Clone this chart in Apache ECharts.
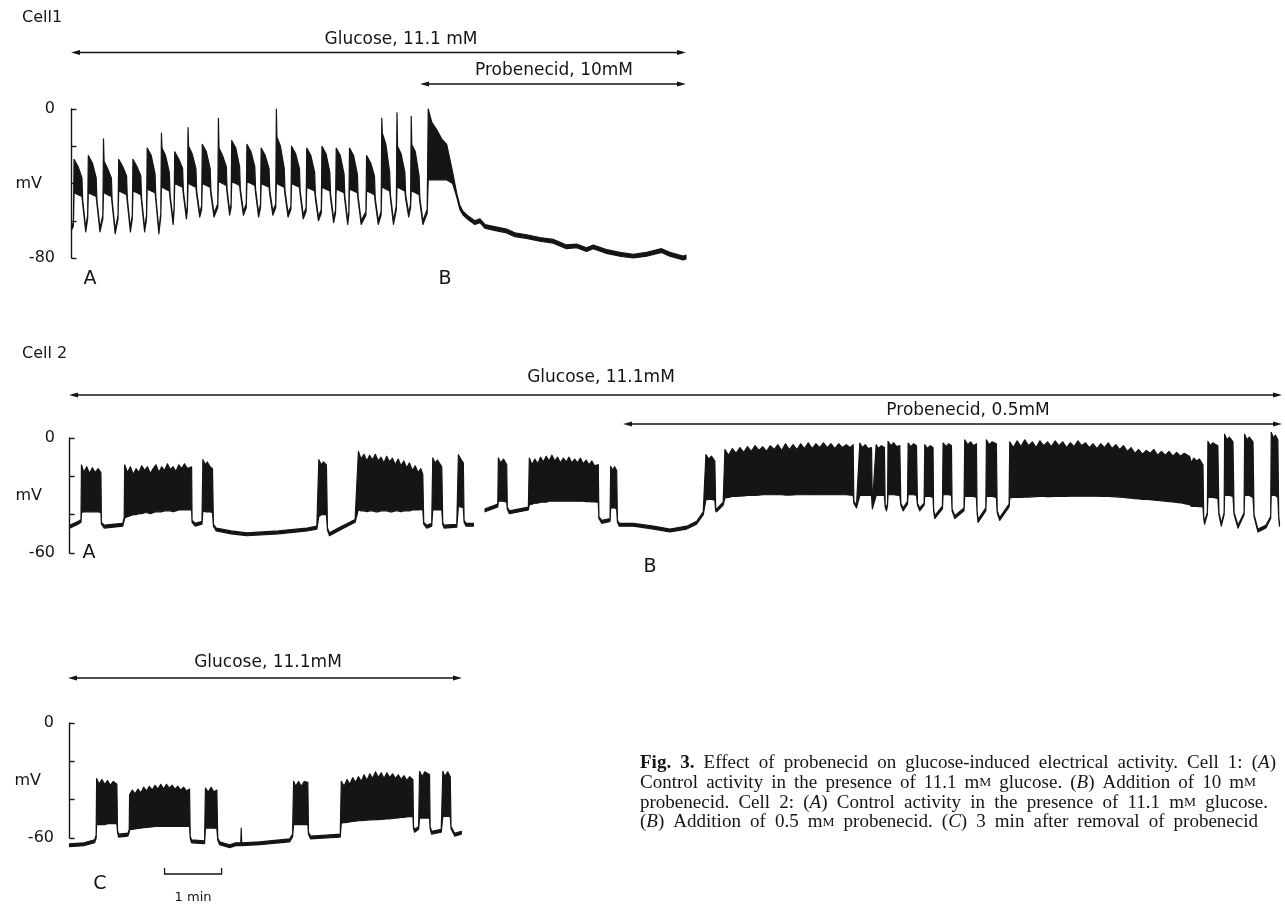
<!DOCTYPE html>
<html>
<head>
<meta charset="utf-8">
<title>Fig. 3 - probenecid</title>
<script src="https://cdn.jsdelivr.net/npm/echarts@6/dist/echarts.min.js"></script>
<style>
  html, body { margin: 0; padding: 0; background: #fff; }
  #main { width: 1285px; height: 906px; }
</style>
</head>
<body>
<div id="main"></div>
<script>
// membrane potential
// each point: [time (s), lower edge (mV), upper edge (mV)]
// inside a burst the lower edge is the plateau and the upper edge the spike tops
const cell1Trace = [
  [0, -65, -63], [2, -63, -61], [2.7, -45, -27], [7, -46, -31], [11, -47, -37], [11.8, -51, -49], [15, -66, -64],
  [17, -59, -57], [17.7, -45, -25], [22, -46, -29], [26, -47, -37], [26.8, -51, -49], [30, -66, -64],
  [33, -59, -57], [33.7, -45, -16], [34.3, -45, -28], [38, -46, -32], [42, -47, -37], [42.8, -51, -49], [46, -67, -65],
  [49, -59, -57], [49.7, -44, -27], [54, -45, -31], [58, -46, -36], [58.8, -50, -48], [62, -66, -64],
  [64, -59, -57], [64.7, -44, -27], [69, -45, -31], [73, -46, -36], [73.8, -50, -48], [77, -66, -64],
  [79, -59, -57], [79.7, -43, -21], [84, -44, -25], [88, -45, -35], [88.8, -49, -47], [92, -67, -65],
  [94, -58, -56], [94.7, -42, -13], [95.3, -42, -21], [99, -43, -25], [103, -44, -34], [103.8, -48, -46], [107, -62, -60],
  [108, -55, -53], [108.7, -40, -23], [113, -41, -27], [117, -42, -32], [117.8, -46, -44], [121, -59, -57],
  [122, -54, -52], [122.7, -40, -10], [123.3, -40, -20], [127, -41, -24], [131, -42, -32], [131.8, -46, -44], [135, -58, -56],
  [137, -54, -52], [137.7, -40, -19], [142, -41, -23], [146, -42, -32], [146.8, -46, -44], [150, -58, -56],
  [154, -53, -51], [154.7, -39, -5], [155.3, -39, -21], [159, -40, -25], [163, -41, -31], [163.8, -45, -43], [166.5, -57, -55],
  [168, -53, -51], [168.7, -39, -17], [173, -40, -21], [177, -41, -31], [177.8, -45, -43], [181, -57, -55],
  [184, -53, -51], [184.7, -39, -19], [189, -40, -23], [193, -41, -31], [193.8, -45, -43], [197, -58, -56],
  [199, -53, -51], [199.7, -40, -21], [204, -41, -25], [208, -42, -32], [208.8, -46, -44], [212, -57, -55],
  [215, -53, -51], [215.7, -40, 0], [216.3, -40, -15], [220, -41, -20], [224, -42, -32], [224.8, -46, -44], [228, -58, -56],
  [231, -54, -52], [231.7, -40, -20], [236, -41, -24], [240, -42, -32], [240.8, -46, -44], [244, -59, -57],
  [247, -55, -53], [247.7, -42, -21], [252, -43, -25], [256, -44, -34], [256.8, -48, -46], [260, -60, -58],
  [263, -56, -54], [263.7, -42, -20], [268, -43, -24], [272, -44, -34], [272.8, -48, -46], [276, -61, -59],
  [278, -56, -54], [278.7, -43, -21], [283, -44, -25], [287, -45, -35], [287.8, -49, -47], [290.8, -62, -60],
  [292, -57, -55], [292.7, -43, -21], [297, -44, -25], [301, -45, -35], [301.8, -49, -47], [305, -62, -60],
  [310, -57, -55], [310.7, -44, -25], [315, -45, -29], [319, -46, -36], [319.8, -50, -48], [323, -62, -60],
  [326, -57, -55], [326.7, -42, -5], [327.3, -42, -13], [331, -43, -19], [335, -44, -34], [335.8, -48, -46], [339, -62, -60],
  [342, -54, -52], [342.7, -42, -2], [343.3, -42, -20], [347, -43, -24], [351, -44, -34], [351.8, -48, -46], [355, -58, -56],
  [357, -53, -51], [357.7, -44, -4], [358.3, -44, -19], [362, -45, -23], [366, -46, -36], [366.8, -50, -48], [370, -62, -60],
  [374.5, -56, -54], [375.6, -38, 0], [379.2, -38, -7], [384.4, -38, -11], [389.7, -38, -16], [395, -38, -19],
  [398.4, -39, -27], [401.3, -40, -34], [405.5, -47, -45], [409, -54, -52], [412.4, -57, -55], [417.7, -59.5, -57.5],
  [424.7, -62, -60], [430, -61, -59], [435.2, -64, -62], [444, -65, -63], [458.1, -66.5, -64.5], [466.8, -68.5, -66.5],
  [479.1, -69.5, -67.5], [493.1, -71, -69], [507.1, -72, -70], [521.2, -75, -73], [531.8, -74.5, -72.5],
  [542.3, -76.5, -74.5], [549.3, -75, -73], [563.3, -77.5, -75.5], [577.4, -79, -77], [591.4, -80, -78],
  [605.5, -79, -77], [621.3, -77, -75], [630, -79, -77], [644, -81, -79], [647, -80.5, -78.5]
];

const cell2TraceA = [
  [0, -47, -45.5], [9, -45, -43.5], [12, -44, -42.5],
  [12.5, -39, -14], [15, -38.5, -18], [18, -38.5, -15], [21, -38.5, -18.5], [24, -38.5, -15.5], [27, -38.5, -18],
  [30, -38.5, -16], [33, -39, -18],
  [33.5, -45, -44], [36.5, -47, -45.5], [56, -46, -44.5], [57.5, -43, -41.5],
  [58, -41.7, -14], [61, -41, -18], [64, -40.5, -15], [67, -40, -19], [70, -40, -16], [73, -39.5, -18],
  [76, -39.5, -14.5], [79, -39, -17], [82, -39, -15], [85, -39.5, -18.5], [88, -39, -16], [91, -38.5, -14],
  [94, -38.5, -18], [97, -38.5, -15], [100, -38, -17], [103, -38, -13.5], [106, -38, -16.5], [109, -38.5, -15],
  [112, -38, -17.5], [115, -37.5, -14], [118, -37.5, -16], [121, -37.5, -13.5], [124, -37.5, -16], [128.5, -37.4, -15],
  [129, -44, -43], [132.3, -46, -44.5], [139.4, -45, -43.5],
  [140.4, -38, -11.3], [143, -38.5, -14], [145, -38.5, -12.5], [148, -38.5, -15], [150.5, -39, -16],
  [151.5, -46, -45], [154.4, -48.5, -47], [170, -50, -48.5], [186.7, -51, -49.5], [220, -50, -48.5],
  [250, -48.5, -47], [260.4, -47.5, -46],
  [262.5, -41, -11.3], [265, -40, -14], [267.5, -40, -12.5], [270.5, -40, -14],
  [271.6, -48, -47], [273.7, -51, -49.5], [285, -48, -46.5], [300.7, -44, -42.5],
  [304.2, -37.4, -7], [307, -38, -11], [310, -38, -8.5], [313, -38.5, -12], [316, -38, -9], [319, -38, -11.5],
  [322, -38.5, -8.5], [325, -38.5, -12], [328, -38, -10], [331, -38, -13], [334, -38, -9.5], [337, -38.5, -12.5],
  [340, -38.5, -10.5], [343, -38, -14], [346, -38, -11], [349, -38.5, -14.5], [352, -38, -12], [355, -38, -15.5],
  [358, -38, -13], [361, -37.5, -17], [364, -37.5, -14.5], [367, -37.5, -18], [370, -37.4, -16], [372, -37.4, -19],
  [373, -45, -44], [376.2, -47, -45.5], [381.4, -46, -44.5],
  [382.5, -37.4, -10.4], [385, -37.5, -13], [387.5, -37.5, -11.5], [392, -37.5, -15],
  [393, -45, -44], [394.4, -47, -45.5], [407.8, -46.5, -45],
  [409.5, -35.7, -8.7], [412, -36, -11], [414.7, -36.5, -13],
  [415.5, -44, -43], [417.6, -46, -44.5], [425.3, -46, -44.5]
];

const cell2TraceB = [
  [437.6, -38.5, -37], [451, -36, -34.5],
  [451.6, -33, -10.4], [454, -33, -13], [457, -33, -11], [460.4, -33.5, -14],
  [461, -37, -36], [463.2, -39.5, -38], [483.2, -37.5, -36],
  [484.2, -34.8, -10.4], [487, -34.5, -14], [490, -34, -11], [493, -34, -13.5], [496, -33.5, -10], [499, -33.5, -12.5],
  [502, -33.5, -9.5], [505, -33, -12], [508, -33, -9], [511, -33, -12], [514, -33, -10], [517, -33, -13],
  [520, -33, -10.5], [523, -33, -12.5], [526, -33, -10], [529, -33, -13], [532, -33, -11], [535, -33, -13],
  [538, -33, -10.5], [541, -33, -13.5], [544, -33.2, -11.5], [547, -33.2, -14], [550, -33.3, -12], [553, -33.4, -14.5],
  [556.8, -33.5, -13.9],
  [557.5, -42, -41], [560.4, -44.5, -43], [569.2, -43.5, -42],
  [569.9, -36.5, -14.8], [572, -36.5, -17], [574, -36.5, -15], [576.2, -37, -17],
  [577, -44, -43], [578.9, -46, -44.5], [593.6, -46, -44.5], [615, -47.5, -46], [632.3, -49, -47.5],
  [650, -47.5, -46], [660.4, -45, -43.5], [667.4, -40, -38.5],
  [670.2, -32.2, -8.7], [673, -32, -11], [676, -32, -9.5], [679.6, -32.5, -12],
  [680.5, -38, -37], [681.4, -38.5, -37], [688.4, -35, -33.5],
  [690.2, -31.3, -6], [694, -31, -9], [698, -30.5, -5.5], [702, -30.5, -8], [706, -30.3, -5], [710, -30.2, -7.5],
  [714, -30, -4.5], [718, -30, -7], [722, -30, -4], [726, -29.8, -6.5], [730, -29.6, -4.5], [734, -29.6, -7],
  [738, -29.6, -4], [742, -29.6, -6], [746, -29.6, -3.5], [750, -29.6, -6.5], [754, -29.8, -3], [758, -29.8, -6],
  [762, -29.7, -3.5], [766, -29.6, -6], [770, -29.6, -3], [774, -29.6, -5.5], [778, -29.6, -2.5], [782, -29.5, -5.5],
  [786, -29.5, -3], [790, -29.6, -5], [794, -29.6, -2.5], [798, -29.6, -5], [802, -29.5, -3], [806, -29.5, -5.5],
  [810, -29.6, -3], [814, -29.6, -5], [818, -29.6, -3.5], [822, -29.8, -5], [825.3, -30, -3.5],
  [826, -34, -33], [828.8, -36.5, -35],
  [832.3, -30, -2.6], [835, -30, -5], [838, -30, -3.5], [841, -30, -5.5], [844.6, -30, -5],
  [845.5, -37, -35.5],
  [849.5, -30, -3.5], [852, -30, -5.5], [855, -30, -4], [858.2, -30, -5],
  [859, -36, -35], [860.4, -38, -36.5], [861.5, -35, -34],
  [862, -29.6, -1.7], [865, -29.6, -4], [868, -29.6, -2.5], [871, -29.8, -4.5], [874.4, -30, -4],
  [875.5, -35, -34], [877.9, -38, -36.5], [882.5, -34.5, -33],
  [883.2, -29.6, -2.6], [886, -29.6, -4.5], [889, -29.6, -3], [892, -30, -4],
  [893, -35, -34], [895.4, -38, -36.5], [900, -35, -34],
  [900.7, -30.5, -3.5], [903.5, -30.5, -5.5], [906.5, -30.5, -4], [909.4, -31, -5],
  [910, -38, -37], [911.2, -42, -40.5], [919.3, -37, -35.5],
  [920, -29.6, -2.6], [923, -29.6, -4.5], [926, -29.6, -3], [928.8, -30, -4],
  [929.5, -38, -37], [932.3, -42, -40.5], [942, -38, -36.5],
  [942.8, -30.5, -1], [946, -30.5, -3.5], [949, -30.5, -2], [952, -30.5, -4], [955.1, -31, -3],
  [955.8, -39, -38], [956.8, -44, -42.5], [965, -38, -36.5],
  [965.6, -30.5, -1], [968.5, -30.5, -3.5], [971.5, -30.5, -2], [976.1, -31, -3],
  [977, -39, -38], [979.6, -43, -41.5], [989.5, -36, -34.5],
  [990.2, -31.3, -2], [994, -31, -5], [998, -31, -1.5], [1002, -31, -4.5], [1006, -30.8, -1], [1010, -30.8, -4],
  [1014, -30.7, -2], [1018, -30.6, -5], [1022, -30.5, -1.5], [1026, -30.5, -4], [1030, -30.6, -2], [1034, -30.6, -4.5],
  [1038, -30.5, -1.5], [1042, -30.5, -4], [1046, -30.5, -2], [1050, -30.5, -5], [1054, -30.4, -2.5], [1058, -30.4, -4.5],
  [1062, -30.4, -1.5], [1066, -30.4, -4], [1070, -30.4, -2.5], [1074, -30.4, -5], [1078, -30.4, -3], [1082, -30.4, -5.5],
  [1086, -30.5, -3], [1090, -30.5, -5], [1094, -30.5, -2.5], [1098, -30.6, -5.5], [1102, -30.7, -3.5], [1106, -30.8, -6],
  [1110, -31, -4], [1114, -31.2, -7], [1118, -31.4, -5], [1122, -31.6, -8], [1126, -31.8, -6], [1130, -32, -8.5],
  [1134, -32, -6.5], [1138, -32.2, -8], [1142, -32.4, -6], [1146, -32.6, -9], [1150, -32.8, -7], [1154, -33, -9],
  [1158, -33.2, -7], [1162, -33.4, -9.5], [1166, -33.6, -7.5], [1170, -33.8, -9.5], [1174, -34.2, -8], [1179.7, -34.8, -9.6],
  [1181.5, -35.7, -13], [1184, -35.7, -10.5], [1187, -35.7, -12], [1190, -35.8, -11], [1193.7, -36, -14],
  [1194.5, -42, -41], [1195.4, -45, -43.5], [1198.3, -40, -39],
  [1198.9, -31, -1.7], [1201.5, -31, -4], [1204, -31, -2.5], [1209.4, -31.5, -4],
  [1210.5, -40, -39], [1213, -46, -44.5], [1216, -40, -39],
  [1216.5, -30, 2], [1219, -30, -1], [1221.5, -30, 0.5], [1225.3, -30.5, -2],
  [1226.5, -40, -39], [1230.6, -47, -45.5], [1237, -40, -39],
  [1237.6, -30, 2], [1240, -30, -1], [1242.5, -30, 0.5], [1246.4, -31, -2],
  [1247.5, -41, -40], [1251.6, -49, -47.5], [1260, -47, -45.5], [1265, -42, -41],
  [1265.6, -30, 3], [1268, -30, 0], [1270, -30, 1.5], [1272.6, -31, -1],
  [1273.5, -42, -41], [1274.3, -46, -44.5]
];

const cell2TraceC = [
  [0, -64.5, -63], [15, -64, -62.5], [26.3, -62.5, -61], [28, -60, -58.5],
  [28.5, -53, -29], [31, -53, -32], [34, -53, -29.5], [37, -53, -32], [40, -52.5, -30], [43, -52.5, -32.5],
  [46, -52.5, -30.5], [49.8, -52.5, -32],
  [50.5, -57, -56], [51.6, -59.5, -58], [61.4, -59, -57.5], [62.8, -57, -55.5],
  [63.2, -55.7, -37.4], [66, -55.5, -35], [69, -55.2, -37], [72, -55, -34.5], [75, -54.8, -36.5], [78, -54.6, -33.5],
  [81, -54.5, -35.5], [84, -54.3, -33], [87, -54.2, -35], [90, -54, -32.5], [93, -54, -34.5], [96, -54, -32],
  [99, -54, -34.5], [102, -54, -32], [105, -54, -34], [108, -54, -32.5], [111, -54, -34.5], [114, -54, -33],
  [117, -54, -35], [120, -54, -33.5], [123, -54, -35.5], [126.3, -54, -34.5],
  [127, -60, -59], [128.4, -62.5, -61], [142.1, -63, -61.5],
  [143, -54.8, -34], [146, -54.8, -36], [149, -54.8, -33.5], [152, -54.9, -36], [155, -55, -35],
  [156, -61, -60], [157.9, -63.5, -62], [168.4, -65, -63.5], [175, -64, -62.5], [180.2, -64, -62.5],
  [180.7, -63, -54.8], [181.2, -64, -62.5], [200, -63.5, -62], [231.6, -62, -60.5], [234.7, -59.5, -58],
  [235.8, -53, -30.4], [238, -53, -33], [241, -53, -30.5], [244, -53, -33], [247, -53, -30.5], [250.8, -53, -31],
  [251.5, -58, -57], [253.7, -60.5, -59], [270, -60, -58.5], [284.9, -59.5, -58],
  [286, -52.2, -30.4], [289, -52, -33], [292, -51.8, -29.5], [295, -51.6, -32], [298, -51.4, -28.5], [301, -51.2, -31],
  [304, -51, -28], [307, -51, -30.5], [310, -50.8, -27], [313, -50.7, -30], [316, -50.5, -26.5], [319, -50.5, -29],
  [322, -50.4, -25.5], [325, -50.4, -28.5], [328, -50.3, -26], [331, -50.2, -29], [334, -50, -26], [337, -50, -28.5],
  [340, -49.8, -26.5], [343, -49.6, -29], [346, -49.5, -27], [349, -49.3, -29.5], [352, -49.2, -27.5], [355, -49, -30],
  [358, -48.8, -28], [361.4, -48.7, -29.6],
  [362, -55, -54], [363.2, -57, -55.5], [367.4, -55.5, -54],
  [368.4, -49.6, -25.2], [371, -49.6, -28], [374, -49.6, -25.5], [378.9, -49.6, -27],
  [379.5, -55, -54], [381, -58, -56.5], [391.2, -57, -55.5],
  [392.9, -48.7, -25.2], [395, -48.7, -28], [398, -48.7, -25.5], [400.7, -48.7, -28],
  [401.5, -55, -54], [405.3, -59, -57.5], [412.3, -58, -56.5]
];

const cell1YLabels = [0, -80];
const cell2YLabels = [0, -60];
const scaleBar = [100, 160];   // seconds, "1 min"

const INK = '#151515';
const SANS = 'DejaVu Sans';
const SERIF = 'Liberation Serif';
const CAP_SIZE = 19;

const panels = [
  { traces: [cell1Trace], left: 62, top: 109, width: 624, height: 149, xMin: -10, xMax: 647, yMin: -80, labels: cell1YLabels },
  { traces: [cell2TraceA, cell2TraceB], left: 62, top: 438, width: 1221, height: 115, xMin: -8, xMax: 1278, yMin: -60, labels: cell2YLabels },
  { traces: [cell2TraceC], left: 61, top: 723, width: 400, height: 115, xMin: -9, xMax: 412, yMin: -60, labels: cell2YLabels }
];

function traceSeries (data, idx) {
  return {
    type: 'custom',
    xAxisIndex: idx,
    yAxisIndex: idx,
    silent: true,
    data: data,
    encode: { x: 0, y: [1, 2] },
    renderItem: function (params, api) {
      if (params.dataIndex !== 0) {
        return null;
      }
      // band between the two edges: one polygon per trace
      let upper = data.map(d => api.coord([d[0], d[2]]));
      let lower = data.map(d => api.coord([d[0], d[1]])).reverse();
      return {
        type: 'polygon',
        shape: { points: upper.concat(lower) },
        style: { fill: INK, stroke: INK, lineWidth: 1.2, lineJoin: 'round' }
      };
    }
  };
}

let myChart = echarts.init(document.getElementById('main'), null, { renderer: 'canvas' });

let series = [];
panels.forEach((p, i) => {
  p.traces.forEach(t => series.push(traceSeries(t, i)));
});

myChart.setOption({
  animation: false,
  backgroundColor: '#fff',
  grid: panels.map(p => ({
    left: p.left, top: p.top, width: p.width, height: p.height,
    containLabel: false, outerBoundsMode: 'none'
  })),
  xAxis: panels.map((p, i) => ({
    type: 'value', gridIndex: i, min: p.xMin, max: p.xMax, show: false
  })),
  yAxis: panels.map((p, i) => ({
    type: 'value',
    gridIndex: i,
    min: p.yMin,
    max: 0,
    interval: 20,
    axisLine: { show: true, lineStyle: { color: INK, width: 1.4 } },
    axisTick: { show: true, inside: true, length: 5, lineStyle: { color: INK, width: 1.4 } },
    axisLabel: {
      margin: 7,
      color: INK,
      fontFamily: SANS,
      fontSize: 16,
      showMinLabel: true,
      showMaxLabel: true,
      formatter: v => (p.labels.indexOf(v) >= 0 ? String(v) : '')
    },
    splitLine: { show: false }
  })),
  series: series
});

function label (text, x, y, size, align) {
  return {
    type: 'text', x: x, y: y, silent: true,
    style: { text: text, fill: INK, font: size + 'px "' + SANS + '"', align: align || 'center', verticalAlign: 'middle' }
  };
}

function arrow (x1, x2, y) {
  return [
    { type: 'line', silent: true, shape: { x1: x1 + 4, y1: y, x2: x2 - 4, y2: y }, style: { stroke: INK, lineWidth: 1.4 } },
    { type: 'polygon', silent: true, shape: { points: [[x1, y], [x1 + 9, y - 2.6], [x1 + 9, y + 2.6]] }, style: { fill: INK } },
    { type: 'polygon', silent: true, shape: { points: [[x2, y], [x2 - 9, y - 2.6], [x2 - 9, y + 2.6]] }, style: { fill: INK } }
  ];
}

// scale bar placed on the time axis of the last panel
let bx1 = myChart.convertToPixel({ xAxisIndex: 2 }, scaleBar[0]);
let bx2 = myChart.convertToPixel({ xAxisIndex: 2 }, scaleBar[1]);

let elements = [
  label('Cell1', 22, 18, 16, 'left'),
  label('Glucose, 11.1 mM', 401, 40, 17),
  label('Probenecid, 10mM', 554, 71, 17),
  label('A', 90, 279, 19),
  label('B', 445, 279, 19),
  label('Cell 2', 22, 354, 16, 'left'),
  label('Glucose, 11.1mM', 601, 378, 17),
  label('Probenecid, 0.5mM', 968, 411, 17),
  label('A', 89, 553, 19),
  label('B', 650, 567, 19),
  label('Glucose, 11.1mM', 268, 663, 17),
  label('C', 100, 884, 19),
  label('1 min', (bx1 + bx2) / 2, 898, 13),
  label('mV', 42, 183.5, 16, 'right'),
  label('mV', 42, 495.5, 16, 'right'),
  label('mV', 41, 780.5, 16, 'right'),
  { type: 'polyline', silent: true, shape: { points: [[bx1, 868], [bx1, 874], [bx2, 874], [bx2, 868]] }, style: { stroke: INK, lineWidth: 1.3, fill: null } }
]
  .concat(arrow(71, 686, 52.5))
  .concat(arrow(420, 686, 84))
  .concat(arrow(69, 1282, 395))
  .concat(arrow(623, 1282, 424))
  .concat(arrow(68, 462, 678));

// caption: words spread so each line ends where the printed one does
let captionRich = {
  b: { fontFamily: SERIF, fontSize: CAP_SIZE, fontWeight: 'bold', fill: INK },
  i: { fontFamily: SERIF, fontSize: CAP_SIZE, fontStyle: 'italic', fill: INK },
  sc: { fontFamily: SERIF, fontSize: 13.5, fill: INK }
};
let captionLines = [
  '{b|Fig.} {b|3.} Effect of probenecid on glucose-induced electrical activity. Cell 1: ({i|A})',
  'Control activity in the presence of 11.1 m{sc|M} glucose. ({i|B}) Addition of 10 m{sc|M}',
  'probenecid. Cell 2: ({i|A}) Control activity in the presence of 11.1 m{sc|M} glucose.',
  '({i|B}) Addition of 0.5 m{sc|M} probenecid. ({i|C}) 3 min after removal of probenecid'
];
let captionEnds = [1276, 1256, 1268, 1258];

let measureCtx = document.createElement('canvas').getContext('2d');
function wordWidth (word) {
  let w = 0;
  let re = /\{(\w+)\|([^}]*)\}|([^{]+)/g;
  let m;
  while ((m = re.exec(word)) !== null) {
    if (m[1]) {
      let s = captionRich[m[1]];
      measureCtx.font = (s.fontStyle || 'normal') + ' ' + (s.fontWeight || 'normal') + ' ' + s.fontSize + 'px "' + SERIF + '"';
      w += measureCtx.measureText(m[2]).width;
    } else {
      measureCtx.font = CAP_SIZE + 'px "' + SERIF + '"';
      w += measureCtx.measureText(m[3]).width;
    }
  }
  return w;
}

captionLines.forEach((line, i) => {
  let words = line.split(' ');
  let widths = words.map(wordWidth);
  let total = widths.reduce((a, b) => a + b, 0);
  let gap = (captionEnds[i] - 640 - total) / (words.length - 1);
  let x = 640;
  words.forEach((w, j) => {
    elements.push({
      type: 'text', x: x, y: 763 + i * 19.8, silent: true,
      style: {
        text: w, rich: captionRich, fill: INK,
        fontFamily: SERIF, fontSize: CAP_SIZE,
        align: 'left', verticalAlign: 'middle'
      }
    });
    x += widths[j] + gap;
  });
});

myChart.setOption({ graphic: { elements: elements } });
</script>
</body>
</html>
